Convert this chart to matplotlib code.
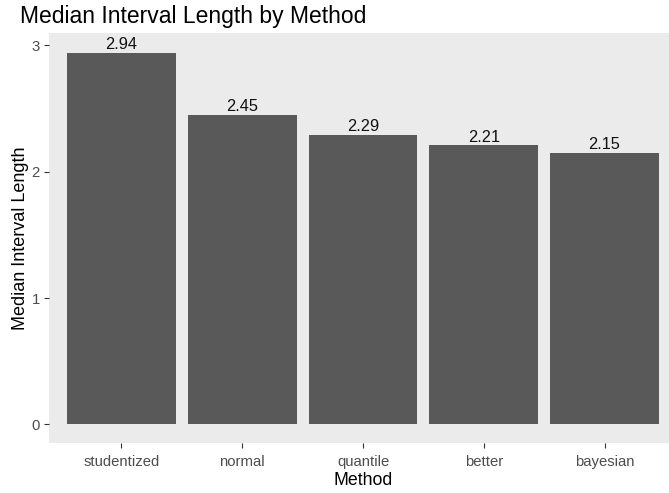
import numpy as np
import matplotlib
matplotlib.use('Agg')
import matplotlib.pyplot as plt

methods = ["studentized", "normal", "quantile", "better", "bayesian"]
median_len = [2.94, 2.45, 2.29, 2.21, 2.15]
labels = ["2.94", "2.45", "2.29", "2.21", "2.15"]

plt.rcParams['font.family'] = ['Liberation Sans', 'DejaVu Sans']

fig = plt.figure(figsize=(6.69, 4.93), dpi=100)
# panel runs past the right edge, like the cropped original
ax = fig.add_axes([49/669, 50/493, 628/669, 410/493])
ax.set_facecolor('#EBEBEB')

x = np.arange(len(methods))
ax.bar(x, median_len, width=0.9, color='#595959', zorder=3)
for xi, v, lab in zip(x, median_len, labels):
    ax.text(xi, v + 0.005, lab, ha='center', va='bottom', fontsize=11.8, color='#111111', zorder=4)

ax.set_xlim(-0.6, 4.6)
ax.set_ylim(-0.147, 3.098)
ax.set_yticks([0, 1, 2, 3])
ax.set_xticks(x)
ax.set_xticklabels(methods)
ax.tick_params(axis='both', colors='#333333', labelcolor='#4D4D4D', labelsize=10.7, length=3.5, width=0.8, pad=3)
ax.tick_params(axis='x', pad=5)
for s in ax.spines.values():
    s.set_visible(False)

ax.set_xlabel('Method', fontsize=12.8, labelpad=2)
ax.set_ylabel('Median Interval Length', fontsize=13, labelpad=2)
fig.text(20/669, 1 - 16/493, 'Median Interval Length by Method', fontsize=16.5, va='center', ha='left')

fig.savefig('out.png', dpi=100)
